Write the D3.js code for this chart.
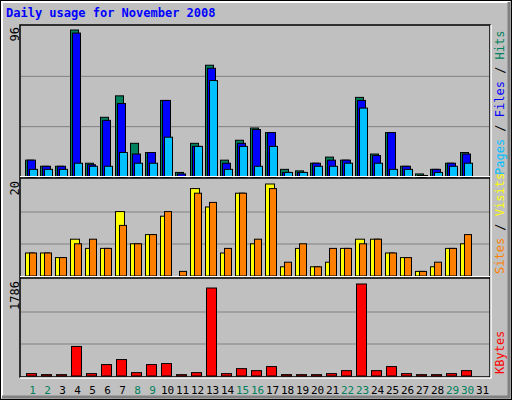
<!DOCTYPE html>
<html><head><meta charset="utf-8">
<script src="https://cdn.jsdelivr.net/npm/d3@7"></script>
<style>body{margin:0;background:#fff}</style>
</head><body><div id="chart"></div>
<script>
// Daily values for November 2008
const days = d3.range(1, 32);
const weekends = [1, 2, 8, 9, 15, 16, 22, 23, 29, 30];
const hits   = [11,7,7,96,9,39,53,22,16,50,3,22,73,11,24,32,29,5,4,9,13,11,52,15,29,7,2,5,9,16,0];
const files  = [11,7,7,94,8,37,48,15,16,50,2,20,71,9,22,31,29,3,3,9,11,11,50,14,29,7,1,5,9,15,0];
const pages  = [5,5,5,9,7,7,16,9,9,26,0,20,63,5,20,7,20,3,3,7,7,9,45,9,5,5,1,3,7,9,0];
const visits = [5,5,4,8,6,6,14,7,9,13,0,19,15,5,18,7,20,2,6,2,3,6,8,8,5,4,1,2,6,7,0];
const sites  = [5,5,4,7,8,6,11,7,9,14,1,18,16,6,18,8,19,3,7,2,6,6,7,8,5,4,1,3,6,9,0];
const kbytes = [46,26,26,574,46,222,319,65,222,241,26,65,1708,46,143,104,183,26,26,26,46,104,1786,104,183,46,26,26,46,104,0];

const width = 512, height = 400;
const svg = d3.select("#chart").append("svg")
  .attr("width", width).attr("height", height)
  .style("font-family", "DejaVu Sans Mono, monospace");

// background and bevel
svg.append("rect").attr("width", width).attr("height", height).attr("fill", "#c0c0c0");
svg.append("rect").attr("x", 0.5).attr("y", 0.5).attr("width", width - 1).attr("height", height - 1)
  .attr("fill", "none").attr("stroke", "#000");
svg.append("path").attr("d", `M2,${height - 2}V2H${width - 2}`).attr("stroke", "#fff").attr("stroke-width", 2).attr("fill", "none");
svg.append("path").attr("d", `M${width - 3},2V${height - 3}H2`).attr("stroke", "#808080").attr("stroke-width", 3).attr("fill", "none");

svg.append("text").attr("x", 6).attr("y", 17)
  .attr("fill", "#0000ff").attr("font-weight", "bold").attr("font-size", 12)
  .text("Daily usage for November 2008");

// chart frame
const left = 20, right = 490;
svg.append("rect").attr("x", left).attr("y", 25).attr("width", right - left).attr("height", 352)
  .attr("fill", "none").attr("stroke", "#000").attr("stroke-width", 1.5);
svg.append("path").attr("d", `M${right + 1},25V378H${left}`).attr("stroke", "#fff").attr("stroke-width", 1.5).attr("fill", "none");

const x = d3.scaleBand().domain(days).range([25, 25 + 15 * 31]);

// series: values, colour, x offset, width
const panels = [
  {top: 26, bottom: 177, max: 96, label: "96",
    series: [[hits, "#00805c", 0, 8], [files, "#0000ff", 2, 8], [pages, "#00c0ff", 4, 8]],
    legend: [["Pages", "#00c0ff"], [" / ", "#000"], ["Files", "#0000ff"], [" / ", "#000"], ["Hits", "#00805c"]]},
  {top: 180, bottom: 276, max: 20, label: "20",
    series: [[visits, "#ffff00", 0, 9], [sites, "#ff8000", 4, 7]],
    legend: [["Sites", "#ff8000"], [" / ", "#000"], ["Visits", "#ffff00"]]},
  {top: 280, bottom: 376, max: 1786, label: "1786",
    series: [[kbytes, "#ff0000", 1, 10]],
    legend: [["KBytes", "#ff0000"]]}
];

panels.forEach((p, i) => {
  const y = d3.scaleLinear().domain([0, p.max]).range([p.bottom, p.top + 4]);
  const h = p.bottom - p.top;
  if (i > 0) {
    svg.append("line").attr("x1", left).attr("x2", right).attr("y1", p.top - 2).attr("y2", p.top - 2)
      .attr("stroke", "#000").attr("stroke-width", 1.5);
    svg.append("line").attr("x1", left).attr("x2", right).attr("y1", p.top - 3.5).attr("y2", p.top - 3.5)
      .attr("stroke", "#fff");
  }
  // grid lines
  [1 / 3, 2 / 3].forEach(f => {
    svg.append("line").attr("x1", left + 1).attr("x2", right - 1)
      .attr("y1", p.bottom - h * f).attr("y2", p.bottom - h * f)
      .attr("stroke", "#808080").attr("stroke-width", 1);
  });
  p.series.forEach(([vals, color, off, w]) => {
    svg.append("g").selectAll("rect")
      .data(vals.map((v, j) => ({day: days[j], v})).filter(d => d.v > 0))
      .join("rect")
        .attr("x", d => x(d.day) + off + 0.5)
        .attr("y", d => y(d.v))
        .attr("width", w)
        .attr("height", d => y(0) - y(d.v))
        .attr("fill", color).attr("stroke", "#000");
  });
  // max label on the left
  svg.append("text").attr("transform", `translate(19,${p.top + 1}) rotate(-90)`)
    .attr("text-anchor", "end").attr("font-size", 12).text(p.label);
  // legend on the right
  const t = svg.append("text")
    .attr("transform", `translate(504,${p.bottom - 2}) rotate(-90)`)
    .attr("font-size", 12);
  p.legend.forEach(([s, c]) => t.append("tspan").attr("fill", c).text(s));
});

// day labels
svg.append("g").selectAll("text")
  .data(days)
  .join("text")
    .attr("x", d => x(d) + 7.5)
    .attr("y", 394)
    .attr("text-anchor", "middle")
    .attr("font-size", 11)
    .attr("fill", d => weekends.includes(d) ? "#00805c" : "#000")
    .text(d => d);
</script>
</body></html>
